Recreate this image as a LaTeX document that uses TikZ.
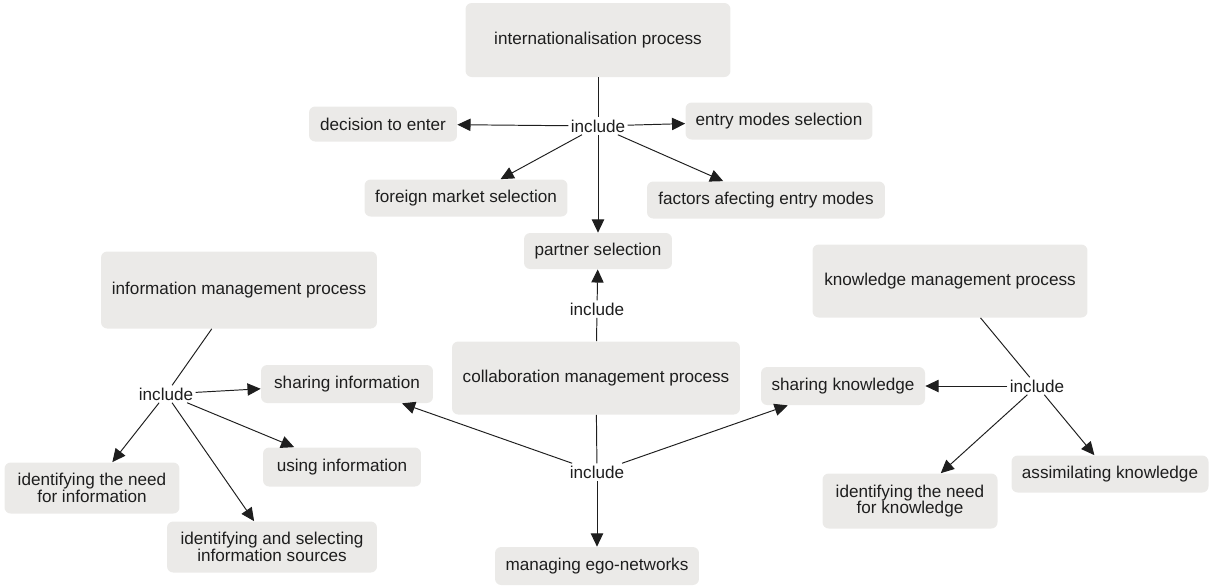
\documentclass[tikz,border=0pt]{standalone}
\usepackage{fontspec}
\setmainfont{Liberation Sans}
\usetikzlibrary{arrows.meta}

\definecolor{boxgray}{RGB}{235,234,232}
\definecolor{ink}{RGB}{30,30,30}

\tikzset{
    box/.style={fill=boxgray, rounded corners=3.5pt, inner sep=2pt, align=center, text=ink, font=\fontsize{9.75}{9.6}\selectfont},
    incl/.style={inner sep=1.2pt, text=ink, font=\fontsize{9.75}{11}\selectfont},
    link/.style={draw=ink, line width=0.55pt},
    arr/.style={link, -{Triangle[length=7.5pt,width=7pt]}}
}

\begin{document}
\begin{tikzpicture}[x=0.02cm, y=-0.02cm]

    \useasboundingbox (0,0) rectangle (1212,586);

    \node[box, minimum width=5.3cm, minimum height=1.48cm] (intl) at (598,40) {internationalisation process};
    \node[box, minimum width=2.96cm, minimum height=0.7cm] (decide) at (383,124) {decision to enter};
    \node[box, minimum width=3.74cm, minimum height=0.74cm] (entry) at (779,121) {entry modes selection};
    \node[box, minimum width=4.06cm, minimum height=0.74cm] (foreign) at (466,198) {foreign market selection};
    \node[box, minimum width=4.76cm, minimum height=0.74cm] (factors) at (766,200) {factors afecting entry modes};
    \node[box, minimum width=2.96cm, minimum height=0.72cm] (partner) at (598,251) {partner selection};

    \node[box, minimum width=5.76cm, minimum height=1.46cm] (collab) at (596,378) {collaboration management process};
    \node[box, minimum width=4.08cm, minimum height=0.76cm] (ego) at (597,566) {managing ego-networks};

    \node[box, minimum width=5.52cm, minimum height=1.54cm] (info) at (239,290) {information management process};
    \node[box, minimum width=3.44cm, minimum height=0.76cm] (shinfo) at (347,384) {sharing information};
    \node[box, minimum width=3.16cm, minimum height=0.78cm] (useinfo) at (342,467) {using information};
    \node[box, minimum width=3.5cm, minimum height=1.02cm] (needinfo) at (92,488) {identifying the need\\for information};
    \node[box, minimum width=4.2cm, minimum height=1.02cm] (sources) at (272,547) {identifying and selecting\\information sources};

    \node[box, minimum width=5.5cm, minimum height=1.46cm] (know) at (950,281) {knowledge management process};
    \node[box, minimum width=3.28cm, minimum height=0.76cm] (shknow) at (843,386) {sharing knowledge};
    \node[box, minimum width=3.94cm, minimum height=0.74cm] (assim) at (1110,474) {assimilating knowledge};
    \node[box, minimum width=3.5cm, minimum height=1.1cm] (needknow) at (910,501) {identifying the need\\for knowledge};

    \node[incl] (inc1) at (598,126) {include};
    \node[incl] (inc2) at (597,309) {include};
    \node[incl] (inc3) at (597,472) {include};
    \node[incl] (inc4) at (166,394) {include};
    \node[incl] (inc5) at (1037,386) {include};

    \foreach \A/\B in {intl/inc1, collab/inc2, collab/inc3, info/inc4, know/inc5}
        \draw[link] (\A) -- (\B);

    \foreach \A/\B in {inc1/decide, inc1/entry, inc1/foreign, inc1/factors, inc1/partner, inc2/partner, inc3/shinfo, inc3/shknow, inc3/ego, inc4/shinfo, inc4/useinfo, inc4/needinfo, inc4/sources, inc5/shknow, inc5/assim, inc5/needknow}
        \draw[arr] (\A) -- (\B);

\end{tikzpicture}
\end{document}
